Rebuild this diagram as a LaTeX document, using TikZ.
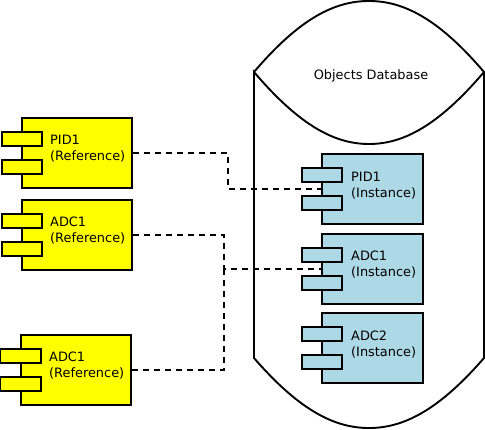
\documentclass[tikz,border=0pt]{standalone}
\usepackage{fontspec}
\setmainfont{DejaVu Sans}
\definecolor{instblue}{HTML}{ADD8E6}
\definecolor{refyellow}{HTML}{FFFF00}
\tikzset{
    compbody/.style={draw,line width=1.9pt,minimum width=110pt,minimum height=70pt,inner sep=0},
    refbody/.style={compbody,fill=refyellow},
    instbody/.style={compbody,fill=instblue,minimum width=101pt},
    compport/.style={draw,line width=1.9pt,minimum width=40pt,minimum height=14pt,inner sep=0,xshift=0.5pt},
    refport/.style={compport,fill=refyellow},
    instport/.style={compport,fill=instblue},
    compname/.style={anchor=west,align=left,inner sep=0,font=\fontsize{12.9}{16}\selectfont},
    link/.style={line width=1.9pt,dash pattern=on 6pt off 5pt}
}
\begin{document}
\begin{tikzpicture}[x=1pt,y=-1pt]

    \useasboundingbox (0,0) rectangle (485,429);

    % Database
    \node[font=\fontsize{12.9}{16}\selectfont] (dbname) at (371,76) {Objects Database};
    \draw[line width=1.9pt] (254,72) .. controls (300,18) and (335,1) .. (369,1)
        .. controls (403,1) and (438,18) .. (484,72)
        .. controls (438,126) and (403,144) .. (369,144)
        .. controls (335,144) and (300,126) .. (254,72) -- (254,358)
        .. controls (300,411) and (335,428) .. (369,428)
        .. controls (403,428) and (438,411) .. (484,358) -- (484,72);

    % Reference components
    \node[refbody] (pidref) at (77,153) {};
    \node[refport,yshift=14pt] (pidrefa) at (pidref.west) {};
    \node[refport,yshift=-14pt] (pidrefb) at (pidref.west) {};
    \node[compname] (pidreftext) at (50,148.5) {PID1\\(Reference)};

    \node[refbody] (adcref) at (77,235) {};
    \node[refport,yshift=14pt] (adcrefa) at (adcref.west) {};
    \node[refport,yshift=-14pt] (adcrefb) at (adcref.west) {};
    \node[compname] (adcreftext) at (50,230.5) {ADC1\\(Reference)};

    \node[refbody] (adcother) at (76,370) {};
    \node[refport,yshift=14pt] (adcothera) at (adcother.west) {};
    \node[refport,yshift=-14pt] (adcotherb) at (adcother.west) {};
    \node[compname] (adcothertext) at (49,365.5) {ADC1\\(Reference)};

    % Instance components
    \node[instbody] (pidinst) at (372.5,189) {};
    \node[instport,yshift=14pt] (pidinsta) at (pidinst.west) {};
    \node[instport,yshift=-14pt] (pidinstb) at (pidinst.west) {};
    \node[compname] (pidinsttext) at (351,185.5) {PID1\\(Instance)};

    \node[instbody] (adcinst) at (372.5,269) {};
    \node[instport,yshift=14pt] (adcinsta) at (adcinst.west) {};
    \node[instport,yshift=-14pt] (adcinstb) at (adcinst.west) {};
    \node[compname] (adcinsttext) at (351,264.5) {ADC1\\(Instance)};

    \node[instbody] (adctwo) at (372.5,348) {};
    \node[instport,yshift=14pt] (adctwoa) at (adctwo.west) {};
    \node[instport,yshift=-14pt] (adctwob) at (adctwo.west) {};
    \node[compname] (adctwotext) at (351,344.5) {ADC2\\(Instance)};

    % Links
    \coordinate (pidbend) at (228,189);
    \coordinate (adcbend) at (224,269);
    \draw[link] (pidref.east) -| (pidbend) -- (pidinst.west);
    \draw[link] (adcref.east) -| (adcbend) -- (adcinst.west);
    \draw[link] (adcother.east) -| (adcbend);

\end{tikzpicture}
\end{document}
